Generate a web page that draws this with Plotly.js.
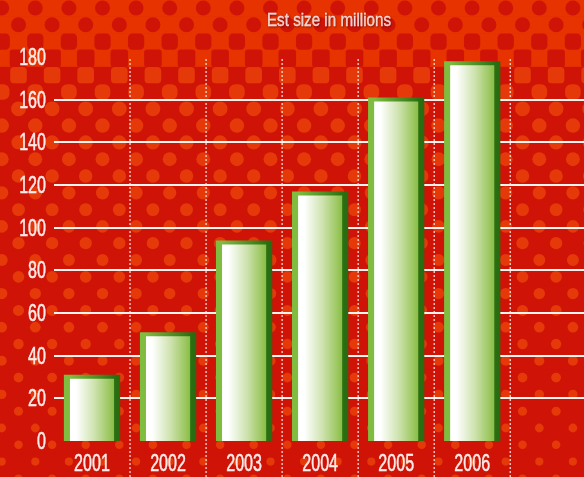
<!DOCTYPE html>
<html>
<head>
<meta charset="utf-8">
<script src="https://cdn.plot.ly/plotly-3.0.1.min.js"></script>
<style>
  html, body { margin: 0; padding: 0; width: 584px; height: 477px; overflow: hidden; background: #cc1206; }
  #bg { position: absolute; left: -4px; top: -4px; width: 592px; height: 485px; filter: blur(0.6px); }
  #chart { position: absolute; left: 0; top: 0; width: 584px; height: 477px; }
</style>
</head>
<body>
<canvas id="bg" width="592" height="485"></canvas>
<div id="chart"></div>
<script>
// ---- data ----
const years = ['2001', '2002', '2003', '2004', '2005', '2006'];
const sizes = [31, 51, 94, 117, 161, 178];
const yLabelVals = [0, 20, 40, 60, 80, 100, 120, 140, 160, 180];
const gridVals = [20, 40, 60, 80, 100, 120, 140, 160];
const chartTitle = 'Est size in millions';

// ---- halftone background (decoration) ----
(function () {
  const c = document.getElementById('bg');
  const ctx = c.getContext('2d');
  const OFF = 4, s = 16.8, ox = 1.7 + OFF, oy = 8 + OFF;
  const ORANGE = '#e73300', DARK = '#cf1407', ORANGE2 = '#e6390a';
  function rr(cx, cy, w, r) {
    const x = cx - w / 2, y = cy - w / 2;
    r = Math.min(r, w / 2);
    ctx.beginPath();
    ctx.moveTo(x + r, y);
    ctx.arcTo(x + w, y, x + w, y + w, r);
    ctx.arcTo(x + w, y + w, x, y + w, r);
    ctx.arcTo(x, y + w, x, y, r);
    ctx.arcTo(x, y, x + w, y, r);
    ctx.closePath();
    ctx.fill();
  }
  function params(yy) {
    if (yy < 30) return [15, 7.5, 0];
    if (yy < 50) return [16.3, 4.5, 0];
    if (yy < 66) return [17.6, 3, 0];
    if (yy < 84) return [16.6, 4, 1];
    if (yy < 100) return [15.6, 6, 1];
    const w = 15 - 7 * (yy - 100) / 370;
    return [w, w / 2, 1];
  }
  for (let j = -1; j < 32; j++) {
    const cy = oy + j * s;
    const top = cy - s / 2;
    const yy = cy - OFF;
    const [w, r, mode] = params(yy);
    ctx.fillStyle = mode === 0 ? ORANGE : DARK;
    ctx.fillRect(0, top, c.width, s + 0.5);
    ctx.fillStyle = mode === 0 ? DARK : ORANGE2;
    for (let i = -1; i < 40; i++) {
      if ((((i + j) % 2) + 2) % 2 !== mode) continue;
      rr(ox + i * s, cy, w, r);
    }
  }
})();

// ---- chart ----
const plotTop = 57, plotBottom = 441;
const pxPerUnit = (plotBottom - plotTop) / 180;
const topStripPx = 4;
const innerTops = sizes.map(v => v - topStripPx / pxPerUnit);

const font = 'Liberation Sans, Arial, sans-serif';
const textColor = '#fdecea';

const traces = [
  { type: 'bar', x: years, y: sizes, width: 0.74, marker: { color: '#5a9a2a', line: { width: 0 } }, hoverinfo: 'skip' },
  { type: 'bar', x: years, y: innerTops, width: 0.58, marker: { color: '#d8ebc0', line: { width: 0 } }, hoverinfo: 'skip' },
  { type: 'scatter', x: [], y: [], yaxis: 'y2', showlegend: false, hoverinfo: 'skip' }
];

const shapes = years.map((_, i) => ({
  type: 'line', xref: 'x', yref: 'paper',
  x0: i + 0.5, x1: i + 0.5,
  y0: (plotBottom - 477) / (plotBottom - plotTop), y1: (plotBottom - 59) / (plotBottom - plotTop),
  line: { color: 'rgba(255,245,240,0.95)', width: 1.2, dash: '2px,2px' },
  layer: 'below'
}));

const layout = {
  width: 584, height: 477,
  margin: { l: 54, r: 0, t: plotTop, b: 477 - plotBottom, pad: 0 },
  paper_bgcolor: 'rgba(0,0,0,0)', plot_bgcolor: 'rgba(0,0,0,0)',
  barmode: 'overlay', showlegend: false,
  title: {
    text: chartTitle, xref: 'container', yref: 'container',
    x: 329 / 584, y: 1 - 19 / 477, xanchor: 'center', yanchor: 'middle',
    font: { family: font, size: 19, color: textColor, shadow: '1px 1px 2px rgba(110,0,0,0.7)' }
  },
  xaxis: {
    type: 'category', range: [-0.5, 6.47], showgrid: false, zeroline: false, showline: false,
    ticks: '', ticklabelstandoff: 6,
    tickfont: { family: font, size: 23, color: textColor }
  },
  yaxis: {
    range: [0, 180], tickvals: gridVals, showticklabels: false, ticks: '',
    showgrid: true, gridcolor: '#fff4f0', gridwidth: 2.2, zeroline: false, showline: false
  },
  yaxis2: {
    overlaying: 'y', side: 'left', range: [0, 180], tickvals: yLabelVals,
    showgrid: false, zeroline: false, showline: false, ticks: '', ticklabelstandoff: 7,
    tickfont: { family: font, size: 23, color: textColor }
  },
  shapes: shapes
};

function narrow(el, sx, sw) {
  const ax = parseFloat(el.getAttribute('x')) || 0;
  const t = el.getAttribute('transform') || '';
  el.setAttribute('transform', t + ' translate(' + ax + ',0) scale(' + sx + ',1) translate(' + (-ax) + ',0)');
  el.style.stroke = textColor;
  el.style.strokeWidth = sw + 'px';
}

Plotly.newPlot('chart', traces, layout, { staticPlot: true, displayModeBar: false }).then(gd => {
  const svg = gd.querySelector('.main-svg');
  const NS = 'http://www.w3.org/2000/svg';
  const defs = document.createElementNS(NS, 'defs');
  function grad(id, stops) {
    const g = document.createElementNS(NS, 'linearGradient');
    g.setAttribute('id', id);
    g.setAttribute('x1', '0'); g.setAttribute('y1', '0');
    g.setAttribute('x2', '1'); g.setAttribute('y2', '0');
    stops.forEach(([o, c]) => {
      const st = document.createElementNS(NS, 'stop');
      st.setAttribute('offset', o);
      st.setAttribute('stop-color', c);
      g.appendChild(st);
    });
    defs.appendChild(g);
  }
  grad('gOuter', [[0, '#80bc3f'], [0.107, '#80bc3f'], [0.893, '#2c7012'], [1, '#276a10']]);
  grad('gInner', [[0, '#ffffff'], [0.14, '#ffffff'], [0.55, '#cfe3b0'], [1, '#8abe46']]);
  svg.insertBefore(defs, svg.firstChild);
  const tr = gd.querySelectorAll('.barlayer .trace');
  if (tr[0]) tr[0].querySelectorAll('path').forEach(p => { p.style.fill = 'url(#gOuter)'; p.style.fillOpacity = 1; });
  if (tr[1]) tr[1].querySelectorAll('path').forEach(p => { p.style.fill = 'url(#gInner)'; p.style.fillOpacity = 1; });
  gd.querySelectorAll('.xtick text, .y2tick text').forEach(el => narrow(el, 0.7, 0.5));
  gd.querySelectorAll('.gtitle').forEach(el => narrow(el, 0.8, 0.3));
});
</script>
</body>
</html>
